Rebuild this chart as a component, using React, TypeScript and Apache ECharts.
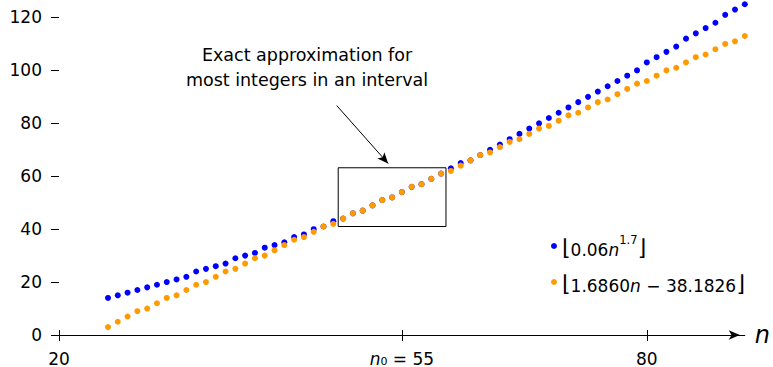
import React, { useEffect, useRef } from "react";
import * as echarts from "echarts";

// n values 25..90
const nValues: number[] = [
  25, 26, 27, 28, 29, 30, 31, 32, 33, 34, 35, 36, 37, 38, 39, 40, 41, 42, 43, 44, 45, 46,
  47, 48, 49, 50, 51, 52, 53, 54, 55, 56, 57, 58, 59, 60, 61, 62, 63, 64, 65, 66, 67, 68,
  69, 70, 71, 72, 73, 74, 75, 76, 77, 78, 79, 80, 81, 82, 83, 84, 85, 86, 87, 88, 89, 90,
];
// ⌊0.06 n^1.7⌋
const powerValues: number[] = [
  14, 15, 16, 17, 18, 19, 20, 21, 22, 24, 25, 26, 27, 29, 30, 31, 33, 34, 35, 37, 38, 40,
  41, 43, 44, 46, 47, 49, 51, 52, 54, 56, 57, 59, 61, 63, 65, 66, 68, 70, 72, 74, 76, 78,
  80, 82, 84, 86, 88, 90, 92, 94, 96, 98, 100, 103, 105, 107, 109, 112, 114, 116, 118, 121, 123, 125,
];
// ⌊1.6860 n − 38.1826⌋
const linearValues: number[] = [
  3, 5, 7, 9, 10, 12, 14, 15, 17, 19, 20, 22, 24, 25, 27, 29, 30, 32, 34, 36, 37, 39,
  41, 42, 44, 46, 47, 49, 51, 52, 54, 56, 57, 59, 61, 62, 64, 66, 68, 69, 71, 73, 74, 76,
  78, 79, 81, 83, 84, 86, 88, 89, 91, 93, 95, 96, 98, 100, 101, 103, 105, 106, 108, 110, 111, 113,
];
const xTicks: number[] = [20, 55, 80];
const yTicks: number[] = [0, 20, 40, 60, 80, 100, 120];
// highlighted interval box [nFrom, yFrom] -> [nTo, yTo]
const boxFrom: number[] = [48.5, 41];
const boxTo: number[] = [59.5, 63.2];
// annotation arrow (data coords)
const arrowFrom: number[] = [48.35, 86.7];
const arrowTo: number[] = [53.6, 64.8];
const annotationLines: string[] = ["Exact approximation for", "most integers in an interval"];
const seriesNames: string[] = ["power", "linear"];

const FONT = "'DejaVu Sans', sans-serif";

export default function App() {
  const ref = useRef<HTMLDivElement>(null);
  useEffect(() => {
    if (!ref.current) return;
    const chart = echarts.init(ref.current, null, { renderer: "svg" });
    const blue = nValues.map((n, i) => [n, powerValues[i]]);
    const orange = nValues.map((n, i) => [n, linearValues[i]]);
    const base = { fontFamily: FONT, fontSize: 17, color: "#000" };
    chart.setOption({
      animation: false,
      textStyle: { fontFamily: FONT },
      grid: { left: 59, right: 25.3, top: 1.6, bottom: 31.6, containLabel: false },
      xAxis: [
        {
          type: "value",
          min: 20,
          max: 90,
          position: "bottom",
          splitLine: { show: false },
          axisLine: {
            show: true,
            onZero: false,
            symbol: ["none", "arrow"],
            symbolSize: [7, 11],
            symbolOffset: [0, -5],
            lineStyle: { color: "#000", width: 1 },
          },
          axisTick: { show: true, length: 6, customValues: xTicks, lineStyle: { color: "#000" } },
          axisLabel: {
            show: true,
            customValues: xTicks,
            margin: 8,
            ...base,
            formatter: (v: number) => (v === 55 ? "{i|n}{sub|0}{t| = 55}" : "{t|" + v + "}"),
            rich: {
              t: { ...base, lineHeight: 24, verticalAlign: "bottom" },
              i: { ...base, fontStyle: "italic", lineHeight: 24, verticalAlign: "bottom" },
              sub: { ...base, fontSize: 11, lineHeight: 11, verticalAlign: "bottom" },
            },
          },
          name: "n",
          nameLocation: "end",
          nameGap: 10,
          nameTextStyle: {
            fontFamily: FONT,
            fontStyle: "italic",
            fontSize: 24,
            color: "#000",
            verticalAlign: "middle",
            padding: [0, 0, 4, 0],
          },
        },
        {
          type: "value",
          min: 20,
          max: 90,
          position: "bottom",
          splitLine: { show: false },
          axisLine: { show: false, onZero: false },
          axisTick: { show: true, inside: true, length: 5, customValues: xTicks, lineStyle: { color: "#000" } },
          axisLabel: { show: false },
        },
      ],
      yAxis: {
        type: "value",
        min: 0,
        max: 126,
        splitLine: { show: false },
        axisLine: { show: false },
        axisTick: { show: true, length: 8, customValues: yTicks, lineStyle: { color: "#000" } },
        axisLabel: { show: true, customValues: yTicks, margin: 17, ...base },
      },
      legend: {
        orient: "vertical",
        left: 546,
        top: 229,
        itemWidth: 6,
        itemHeight: 6,
        itemGap: 14,
        icon: "circle",
        data: seriesNames,
        formatter: (name: string) =>
          name === "power"
            ? "{b|⌊}{t|0.06}{i|n}{sup|1.7}{b|⌋}"
            : "{b|⌊}{t|1.6860}{i|n}{t| − 38.1826}{b|⌋}",
        textStyle: {
          ...base,
          rich: {
            t: { ...base, lineHeight: 24, verticalAlign: "bottom" },
            i: { ...base, fontStyle: "italic", lineHeight: 24, verticalAlign: "bottom" },
            sup: { ...base, fontSize: 11.5, lineHeight: 14, verticalAlign: "top" },
            b: { fontFamily: FONT, fontSize: 22, color: "#000", lineHeight: 24, verticalAlign: "bottom" },
          },
        },
      },
      graphic: annotationLines.map((line, i) => ({
        type: "text",
        x: 307,
        y: 55 + i * 25,
        style: {
          text: line,
          fontFamily: FONT,
          fontSize: 17.5,
          fill: "#000",
          align: "center",
          verticalAlign: "middle",
        },
      })),
      series: [
        {
          name: "power",
          type: "scatter",
          data: blue,
          symbol: "circle",
          symbolSize: 6,
          itemStyle: { color: "#0000ff", opacity: 1 },
          clip: false,
          z: 2,
        },
        {
          name: "linear",
          type: "scatter",
          data: orange,
          symbol: "circle",
          symbolSize: 6,
          itemStyle: { color: "#ff9a00", opacity: 1 },
          clip: false,
          z: 3,
          markArea: {
            silent: true,
            itemStyle: { color: "rgba(0,0,0,0)", borderColor: "#000", borderWidth: 1 },
            data: [[{ coord: boxFrom }, { coord: boxTo }]],
          },
          markLine: {
            silent: true,
            symbol: ["none", "arrow"],
            symbolSize: [7, 11],
            label: { show: false },
            lineStyle: { color: "#000", width: 1, type: "solid" },
            data: [[{ coord: arrowFrom }, { coord: arrowTo }]],
          },
        },
      ],
    });
    return () => chart.dispose();
  }, []);
  return (
    <div
      ref={ref}
      style={{ position: "absolute", left: 0, top: 0, width: 773, height: 367, background: "#fff" }}
    />
  );
}
